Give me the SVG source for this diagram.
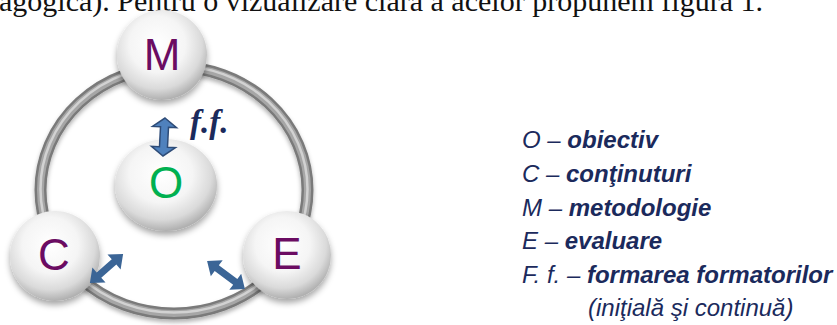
<svg xmlns="http://www.w3.org/2000/svg" width="837" height="325" viewBox="0 0 837 325">
<defs>
<radialGradient id="sph" cx="0.45" cy="0.38" r="0.62">
<stop offset="0" stop-color="#ffffff"/>
<stop offset="0.5" stop-color="#f5f5f5"/>
<stop offset="0.8" stop-color="#dadada"/>
<stop offset="1" stop-color="#b0b0b0"/>
</radialGradient>
<filter id="sh" x="-30%" y="-30%" width="160%" height="170%">
<feDropShadow dx="0" dy="4" stdDeviation="3" flood-color="#000" flood-opacity="0.35"/>
</filter>
<filter id="rsh" x="-10%" y="-10%" width="120%" height="125%">
<feDropShadow dx="0" dy="3" stdDeviation="2" flood-color="#000" flood-opacity="0.3"/>
</filter>
</defs>
<style>
.sphere{fill:url(#sph);filter:url(#sh);}
.lt{font-family:"Liberation Sans",Arial,sans-serif;font-size:44px;text-anchor:middle;}
.pur{fill:#6B0C62;}
.grn{fill:#00B050;}
.arrow{fill:#3B6596;}
.arrowv{fill:#4F81BD;stroke:#2E4C78;stroke-width:1.5;}
.leg{font-family:"Liberation Sans",Arial,sans-serif;font-size:24px;font-style:italic;fill:#1B2A5C;}
.b{font-weight:bold;}
.top{font-family:"Liberation Serif","Times New Roman",serif;font-size:30px;fill:#111;}
</style>
<rect width="837" height="325" fill="#ffffff"/>
<text class="top" x="-1" y="11" textLength="764" lengthAdjust="spacingAndGlyphs">agogică). Pentru o vizualizare clară a acelor propunem figura 1.</text>
<g id="ring" filter="url(#rsh)">
<ellipse cx="174" cy="190" rx="133.5" ry="123.5" fill="none" stroke="#7a7a7a" stroke-width="12"/>
<ellipse cx="174" cy="190" rx="133.5" ry="123.5" fill="none" stroke="#a6a6a6" stroke-width="7"/>
<ellipse cx="174" cy="189" rx="133.5" ry="123.5" fill="none" stroke="#d2d2d2" stroke-width="2.5"/>
</g>
<g id="node-M">
<circle class="sphere" cx="162" cy="55" r="45"/>
<text class="lt pur" x="162" y="70">M</text>
</g>
<g id="node-O">
<ellipse class="sphere" cx="166" cy="185" rx="51" ry="46"/>
<text class="lt grn" x="166" y="198">O</text>
</g>
<g id="node-C">
<circle class="sphere" cx="55" cy="256" r="45"/>
<text class="lt pur" x="54" y="270">C</text>
</g>
<g id="node-E">
<circle class="sphere" cx="287" cy="255" r="44"/>
<text class="lt pur" x="287" y="269">E</text>
</g>
<g id="connectors">
<path class="arrowv" transform="translate(164 137) rotate(93)" d="M-19 0 L-10 -12 L-10 -4 L10 -4 L10 -12 L19 0 L10 12 L10 4 L-10 4 L-10 12 Z"/>
<path class="arrow" transform="translate(106.5 268.5) rotate(-41)" d="M-22 0 L-10 -10 L-10 -3.5 L10 -3.5 L10 -10 L22 0 L10 10 L10 3.5 L-10 3.5 L-10 10 Z"/>
<path class="arrow" transform="translate(226 275) rotate(36.4)" d="M-23.5 0 L-11.5 -10 L-11.5 -3.5 L11.5 -3.5 L11.5 -10 L23.5 0 L11.5 10 L11.5 3.5 L-11.5 3.5 L-11.5 10 Z"/>
<text x="190" y="133" font-family="'Liberation Serif','Times New Roman',serif" font-size="33" font-weight="bold" font-style="italic" fill="#1B2A5C">f.f.</text>
</g>
<g id="legend">
<text class="leg" x="522" y="148">O – <tspan class="b">obiectiv</tspan></text>
<text class="leg" x="522" y="182">C – <tspan class="b">conţinuturi</tspan></text>
<text class="leg" x="522" y="216">M – <tspan class="b">metodologie</tspan></text>
<text class="leg" x="522" y="249">E – <tspan class="b">evaluare</tspan></text>
<text class="leg" x="522" y="283">F. f. – <tspan class="b">formarea formatorilor</tspan></text>
<text class="leg" x="588" y="316">(iniţială şi continuă)</text>
</g>
</svg>
